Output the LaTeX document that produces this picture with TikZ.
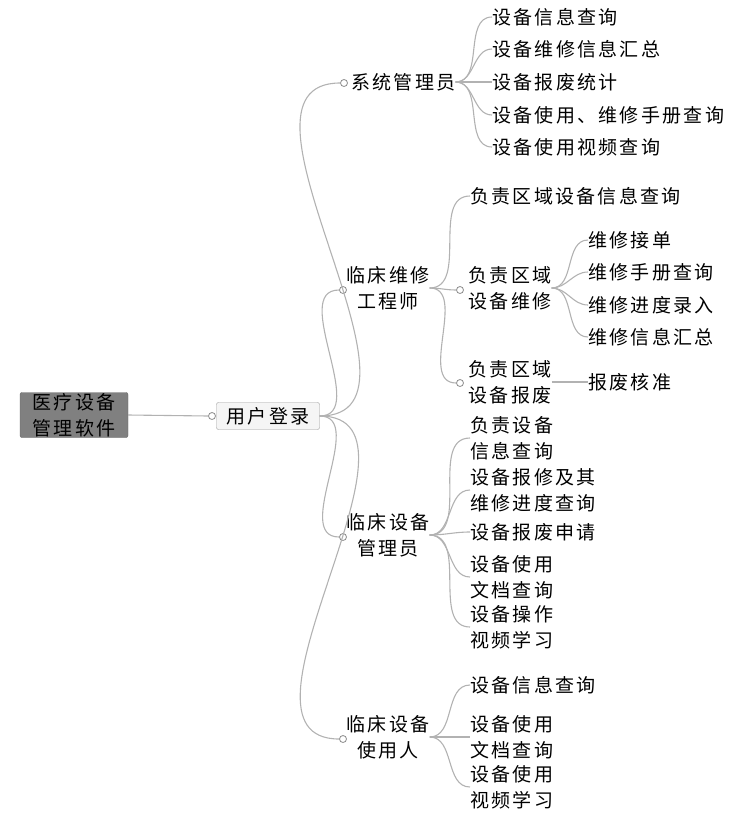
\documentclass[tikz,border=0pt]{standalone}
\usepackage{fontspec}
\newfontfamily\cjk[LetterSpace=12]{Noto Sans CJK SC}
\begin{document}
\begin{tikzpicture}[x=1pt,y=-1pt,
  t/.style={anchor=west,inner sep=0pt,font=\cjk\fontsize{19}{26}\selectfont,align=left},
  tc/.style={inner sep=0pt,font=\cjk\fontsize{19}{26}\selectfont,align=center},
  br/.style={draw=black!30,line width=1.1pt},
  dot/.style={circle,draw=black!45,fill=white,inner sep=0pt,minimum size=7pt,line width=0.8pt}]
\useasboundingbox (0,0) rectangle (742,814);
% root
\node[tc,fill=black!50,draw=black!60,rounded corners=2pt,minimum width=108pt,minimum height=45pt] (root) at (74,415) {医疗设备\\管理软件};
\node[tc,fill=black!4,draw=black!40,rounded corners=2pt,minimum width=103pt,minimum height=27pt] (login) at (268,416) {用户登录};
\node[dot] (dl) at (212,416) {};
\draw[br] (root.east) -- (dl.west);
% level 1
\node[dot] (d1) at (344,83) {};
\node[t] (sys) at (351,82) {系统管理员};
\node[dot] (d2) at (343,290) {};
\node[tc] (eng) at (388,288) {临床维修\\工程师};
\node[dot] (d3) at (343,537) {};
\node[tc] (mgr) at (388,535) {临床设备\\管理员};
\node[dot] (d4) at (343,739) {};
\node[tc] (usr) at (388,737) {临床设备\\使用人};
\foreach \d in {d1,d2,d3,d4} \draw[br] (login.east) to[out=0,in=180] (\d.west);
% sys children
\node[t] (s1) at (492,17) {设备信息查询};
\node[t] (s2) at (492,49) {设备维修信息汇总};
\node[t] (s3) at (492,82) {设备报废统计};
\node[t] (s4) at (492,115) {设备使用、维修手册查询};
\node[t] (s5) at (492,147) {设备使用视频查询};
\foreach \c in {s1,s2,s3,s4,s5} \draw[br] (sys.east) to[out=0,in=180] (\c.west);
% engineer children
\node[t] (e1) at (470,196) {负责区域设备信息查询};
\node[dot] (de2) at (460,290) {};
\node[tc] (e2) at (510,288) {负责区域\\设备维修};
\node[dot] (de3) at (460,383) {};
\node[tc] (e3) at (510,382) {负责区域\\设备报废};
\draw[br] (eng.east) to[out=0,in=180] (e1.west);
\draw[br] (eng.east) to[out=0,in=180] (de2.west);
\draw[br] (eng.east) to[out=0,in=180] (de3.west);
\node[t] (w1) at (588,240) {维修接单};
\node[t] (w2) at (588,272) {维修手册查询};
\node[t] (w3) at (588,305) {维修进度录入};
\node[t] (w4) at (588,337) {维修信息汇总};
\foreach \c in {w1,w2,w3,w4} \draw[br] (e2.east) to[out=0,in=180] (\c.west);
\node[t] (b1) at (588,382) {报废核准};
\draw[br] (e3.east) -- (b1.west);
% manager children
\node[t] (m1) at (470,438) {负责设备\\信息查询};
\node[t] (m2) at (470,490) {设备报修及其\\维修进度查询};
\node[t] (m3) at (470,532) {设备报废申请};
\node[t] (m4) at (470,577) {设备使用\\文档查询};
\node[t] (m5) at (470,627) {设备操作\\视频学习};
\foreach \c in {m1,m2,m3,m4,m5} \draw[br] (mgr.east) to[out=0,in=180] (\c.west);
% user children
\node[t] (u1) at (470,685) {设备信息查询};
\node[t] (u2) at (470,737) {设备使用\\文档查询};
\node[t] (u3) at (470,787) {设备使用\\视频学习};
\foreach \c in {u1,u2,u3} \draw[br] (usr.east) to[out=0,in=180] (\c.west);
\end{tikzpicture}
\end{document}
